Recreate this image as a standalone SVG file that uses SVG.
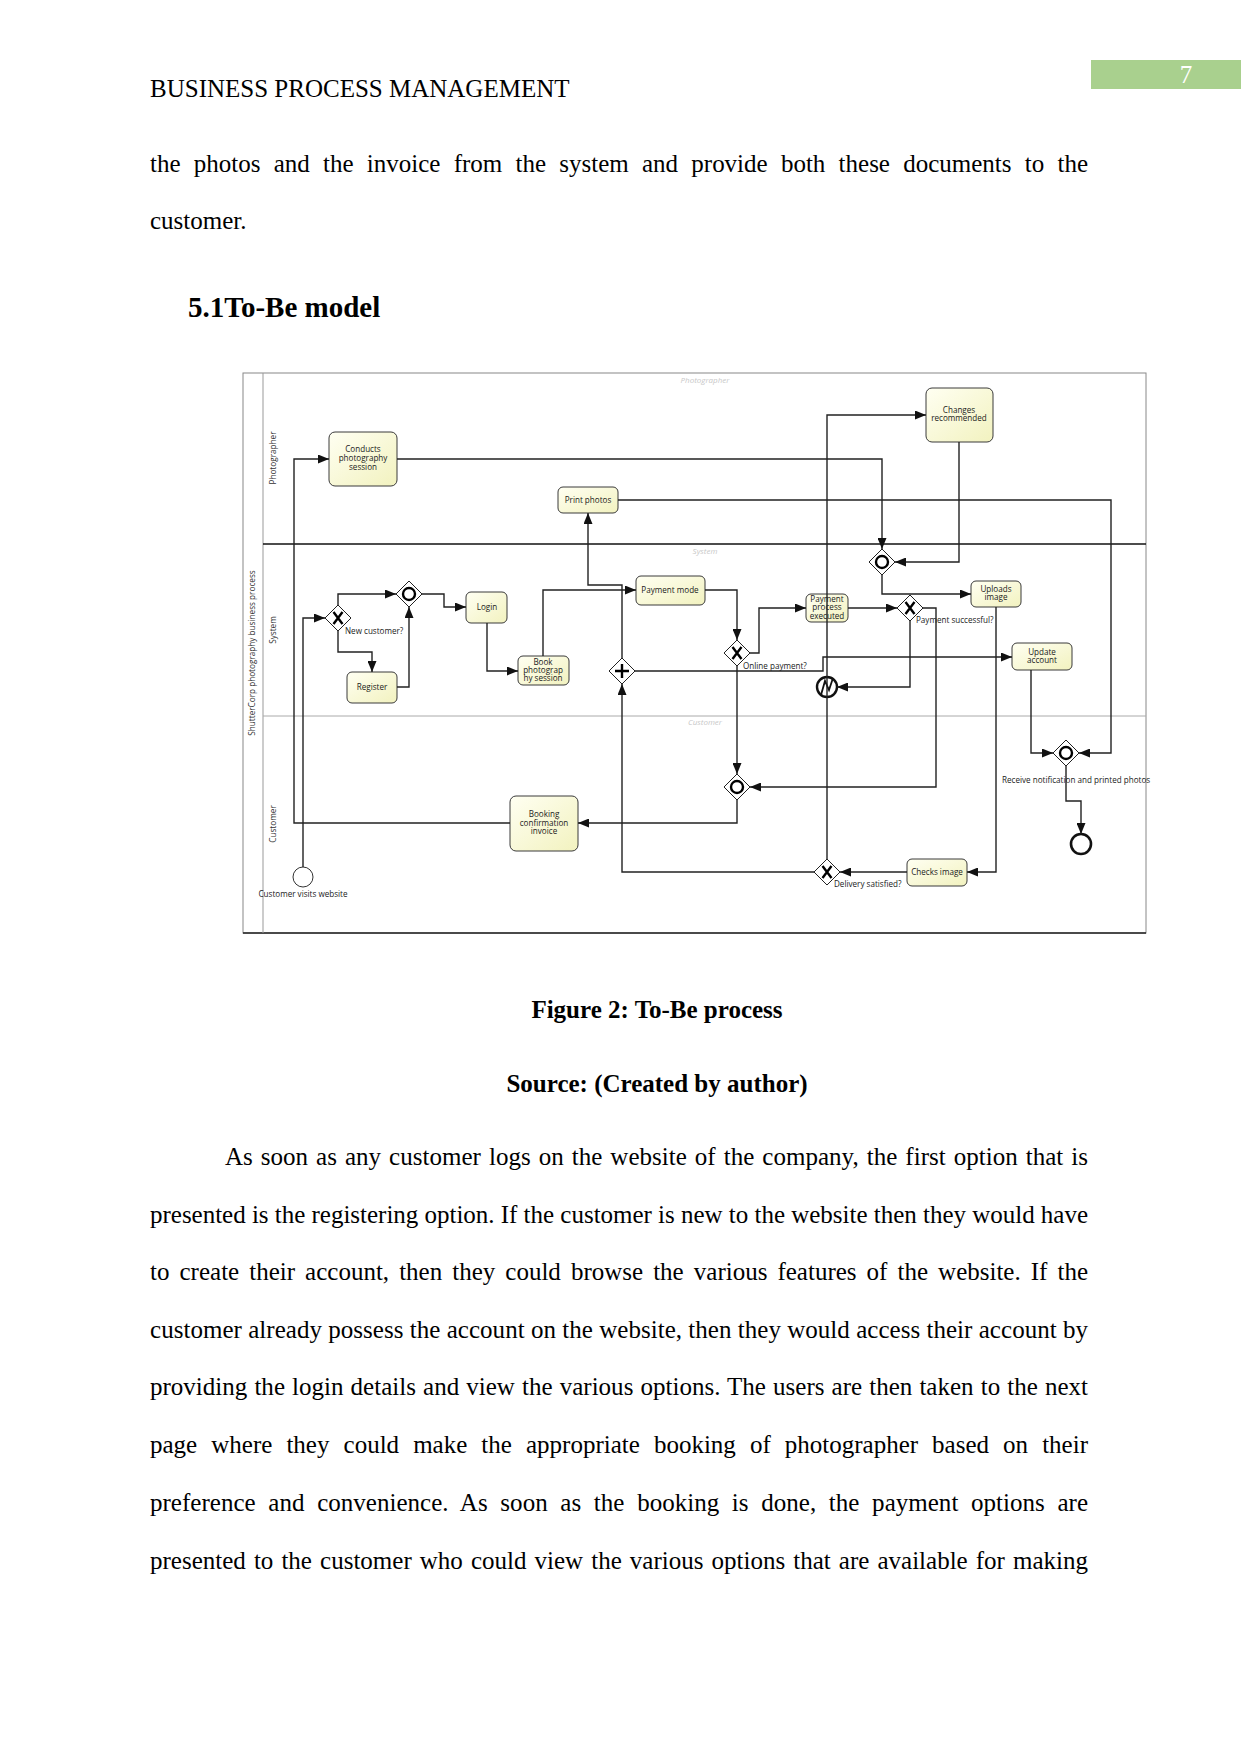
<svg xmlns="http://www.w3.org/2000/svg" width="1241" height="1754" viewBox="0 0 1241 1754">
<defs>
<linearGradient id="fillg" x1="0" y1="0" x2="1" y2="1">
<stop offset="0" stop-color="#fffff2"/>
<stop offset="1" stop-color="#f2f2bf"/>
</linearGradient>
<marker id="arr" viewBox="0 0 11 9" refX="11" refY="4.5" markerWidth="11" markerHeight="9" markerUnits="userSpaceOnUse" orient="auto">
<path d="M0,0 L11,4.5 L0,9 z" fill="#111"/>
</marker>
</defs>
<style>
.page{font-family:"Liberation Serif","Times New Roman",serif;font-size:25px;fill:#000}
.b{font-weight:bold}
.task{fill:url(#fillg);stroke:#3a3a3a;stroke-width:1}
.t{font-family:"Open Sans","DejaVu Sans",sans-serif;font-size:8.1px;fill:#1a1a1a;text-anchor:middle}
.lbl{font-family:"Open Sans","DejaVu Sans",sans-serif;font-size:8.1px;fill:#1a1a1a}
.lane{font-family:"Open Sans","DejaVu Sans",sans-serif;font-size:8.2px;fill:#333;text-anchor:middle}
.ghost{font-family:"Open Sans","DejaVu Sans",sans-serif;font-size:8px;fill:#c8c8c8;font-style:italic;text-anchor:middle}
.gw{fill:#fff;stroke:#222;stroke-width:1}
.mk{stroke:#000;stroke-width:2.4;fill:none}
.conn path{fill:none;stroke:#222;stroke-width:1.4;marker-end:url(#arr)}
</style>
<rect width="1241" height="1754" fill="#fff"/>

<!-- page header -->
<text class="page" x="150" y="97">BUSINESS PROCESS MANAGEMENT</text>
<rect x="1091" y="60" width="150" height="29" fill="#a9d08e"/>
<text class="page" x="1186" y="83" style="fill:#fff" text-anchor="middle">7</text>

<text class="page" x="150" y="172" word-spacing="7" textLength="938" lengthAdjust="spacing">the photos and the invoice from the system and provide both these documents to the</text>
<text class="page" x="150" y="229">customer.</text>
<text class="page b" x="188" y="317" style="font-size:29px">5.1To-Be model</text>

<!-- diagram frame -->
<g id="pool">
<rect x="243" y="373" width="903" height="560" fill="#fff" stroke="#888" stroke-width="1"/>
<line x1="243" y1="933" x2="1146" y2="933" stroke="#222" stroke-width="1.3"/>
<line x1="263" y1="373" x2="263" y2="933" stroke="#999" stroke-width="1"/>
<line x1="263" y1="544" x2="1146" y2="544" stroke="#111" stroke-width="1.4"/>
<line x1="263" y1="716" x2="1146" y2="716" stroke="#aaa" stroke-width="1"/>
<text class="lane" transform="translate(255,653) rotate(-90)">ShutterCorp photography business process</text>
<text class="lane" transform="translate(276,458) rotate(-90)">Photographer</text>
<text class="lane" transform="translate(276,630) rotate(-90)">System</text>
<text class="lane" transform="translate(276,824) rotate(-90)">Customer</text>
<text class="ghost" x="705" y="383">Photographer</text>
<text class="ghost" x="705" y="554">System</text>
<text class="ghost" x="705" y="725">Customer</text>
</g>

<!-- tasks -->
<g id="conducts"><rect class="task" x="329" y="432" width="68" height="54" rx="6"/><text class="t" x="363" y="452">Conducts</text><text class="t" x="363" y="461">photography</text><text class="t" x="363" y="470">session</text></g>
<g id="print"><rect class="task" x="558" y="487" width="60" height="26" rx="5"/><text class="t" x="588" y="503">Print photos</text></g>
<g id="login"><rect class="task" x="466" y="592" width="41" height="31" rx="5"/><text class="t" x="487" y="610">Login</text></g>
<g id="register"><rect class="task" x="347" y="672" width="50" height="31" rx="5"/><text class="t" x="372" y="690">Register</text></g>
<g id="book"><rect class="task" x="518" y="656" width="51" height="29" rx="5"/><text class="t" x="543" y="665">Book</text><text class="t" x="543" y="673">photograp</text><text class="t" x="543" y="681">hy session</text></g>
<g id="paymode"><rect class="task" x="636" y="576" width="69" height="29" rx="5"/><text class="t" x="670" y="593">Payment mode</text></g>
<g id="payproc"><rect class="task" x="806" y="594" width="42" height="28" rx="5"/><text class="t" x="827" y="602">Payment</text><text class="t" x="827" y="610">process</text><text class="t" x="827" y="619">executed</text></g>
<g id="changes"><rect class="task" x="926" y="388" width="67" height="54" rx="6"/><text class="t" x="959" y="413">Changes</text><text class="t" x="959" y="421">recommended</text></g>
<g id="uploads"><rect class="task" x="971" y="581" width="50" height="26" rx="5"/><text class="t" x="996" y="592">Uploads</text><text class="t" x="996" y="600">image</text></g>
<g id="update"><rect class="task" x="1012" y="643" width="60" height="27" rx="5"/><text class="t" x="1042" y="655">Update</text><text class="t" x="1042" y="663">account</text></g>
<g id="booking"><rect class="task" x="510" y="796" width="68" height="55" rx="6"/><text class="t" x="544" y="817">Booking</text><text class="t" x="544" y="826">confirmation</text><text class="t" x="544" y="834">invoice</text></g>
<g id="checks"><rect class="task" x="907" y="859" width="60" height="27" rx="5"/><text class="t" x="937" y="875">Checks image</text></g>

<!-- gateways -->
<g id="gw_new"><polygon class="gw" points="338,605 351,618 338,631 325,618"/><path class="mk" d="M333.5,612 L342.5,624 M342.5,612 L333.5,624" stroke-width="3"/><text class="lbl" x="345" y="634">New customer?</text></g>
<g id="gw_merge1"><polygon class="gw" points="409,581 422,594 409,607 396,594"/><circle cx="409" cy="594" r="6" class="mk" stroke-width="2"/></g>
<g id="gw_par"><polygon class="gw" points="622,658 635,671 622,684 609,671"/><path class="mk" d="M615,671 H629 M622,664 V678" stroke-width="2"/></g>
<g id="gw_online"><polygon class="gw" points="737,640 750,653 737,666 724,653"/><path class="mk" d="M732.5,647 L741.5,659 M741.5,647 L732.5,659" stroke-width="3"/><text class="lbl" x="743" y="669">Online payment?</text></g>
<g id="gw_paysucc"><polygon class="gw" points="910,595 923,608 910,621 897,608"/><path class="mk" d="M905.5,602 L914.5,614 M914.5,602 L905.5,614" stroke-width="3"/><text class="lbl" x="916" y="623">Payment successful?</text></g>
<g id="gw_sys"><polygon class="gw" points="882,549 895,562 882,575 869,562"/><circle cx="882" cy="562" r="6" class="mk" stroke-width="2"/></g>
<g id="gw_cust"><polygon class="gw" points="737,774 750,787 737,800 724,787"/><circle cx="737" cy="787" r="6" class="mk" stroke-width="2"/></g>
<g id="gw_deliv"><polygon class="gw" points="827,859 840,872 827,885 814,872"/><path class="mk" d="M822.5,866 L831.5,878 M831.5,866 L822.5,878" stroke-width="3"/><text class="lbl" x="834" y="887">Delivery satisfied?</text></g>
<g id="gw_receive"><polygon class="gw" points="1066,740 1079,753 1066,766 1053,753"/><circle cx="1066" cy="753" r="6" class="mk" stroke-width="2"/><text class="lbl" x="1002" y="783">Receive notification and printed photos</text></g>

<!-- events -->
<g id="start"><circle cx="303" cy="877" r="10" fill="#fff" stroke="#333" stroke-width="1"/><text class="t" x="303" y="897">Customer visits website</text></g>
<g id="error_event"><circle cx="827" cy="687" r="10" fill="#fff" stroke="#111" stroke-width="2.4"/><polyline points="821,695 825,681 829,690 833,678" fill="none" stroke="#111" stroke-width="1.8"/></g>
<g id="end"><circle cx="1081" cy="844" r="10" fill="#fff" stroke="#111" stroke-width="2.6"/></g>

<!-- connectors -->
<g class="conn" id="connectors">
<path d="M303,867 V618 H325"/>
<path d="M338,605 V594 H396"/>
<path d="M338,631 V652 H372 V672"/>
<path d="M397,687 H409 V607"/>
<path d="M422,594 H444 V607 H466"/>
<path d="M487,623 V671 H518"/>
<path d="M543,656 V590 H636"/>
<path d="M705,590 H737 V640"/>
<path d="M750,653 H759 V608 H806"/>
<path d="M848,608 H897"/>
<path d="M923,608 H936 V787 H750"/>
<path d="M910,621 V687 H837"/>
<path d="M737,666 V774"/>
<path d="M737,800 V823 H578"/>
<path d="M510,823 H294 V459 H329"/>
<path d="M397,459 H882 V549"/>
<path d="M959,442 V562 H895"/>
<path d="M882,575 V594 H971"/>
<path d="M996,607 V872 H967"/>
<path d="M907,872 H840"/>
<path d="M827,859 V415 H926"/>
<path d="M814,872 H622 V684"/>
<path d="M622,658 V585 H588 V513"/>
<path d="M635,671 H823 V657 H1012"/>
<path d="M618,500 H1111 V753 H1079"/>
<path d="M1031,670 V753 H1053"/>
<path d="M1066,766 V801 H1081 V834"/>
</g>

<!-- captions and body -->
<text class="page b" x="657" y="1018" text-anchor="middle">Figure 2: To-Be process</text>
<text class="page b" x="657" y="1092" text-anchor="middle">Source: (Created by author)</text>

<text class="page" x="225" y="1165" word-spacing="1.7" textLength="863" lengthAdjust="spacing">As soon as any customer logs on the website of the company, the first option that is</text>
<text class="page" x="150" y="1223" textLength="938" lengthAdjust="spacing">presented is the registering option. If the customer is new to the website then they would have</text>
<text class="page" x="150" y="1280" word-spacing="3.8" textLength="938" lengthAdjust="spacing">to create their account, then they could browse the various features of the website. If the</text>
<text class="page" x="150" y="1338" textLength="938" lengthAdjust="spacing">customer already possess the account on the website, then they would access their account by</text>
<text class="page" x="150" y="1395" word-spacing="0.8" textLength="938" lengthAdjust="spacing">providing the login details and view the various options. The users are then taken to the next</text>
<text class="page" x="150" y="1453" word-spacing="7.8" textLength="938" lengthAdjust="spacing">page where they could make the appropriate booking of photographer based on their</text>
<text class="page" x="150" y="1511" word-spacing="6.4" textLength="938" lengthAdjust="spacing">preference and convenience. As soon as the booking is done, the payment options are</text>
<text class="page" x="150" y="1569" word-spacing="1.8" textLength="938" lengthAdjust="spacing">presented to the customer who could view the various options that are available for making</text>
</svg>
